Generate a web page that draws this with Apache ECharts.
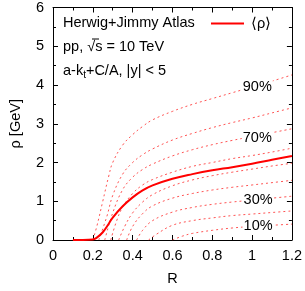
<!DOCTYPE html>
<html><head><meta charset="utf-8">
<script src="https://cdn.jsdelivr.net/npm/echarts@6/dist/echarts.min.js"></script>
<style>html,body{margin:0;padding:0;background:#fff}#c{width:305px;height:291px}</style>
</head><body><div id="c"></div>
<script>
// x ticks / y ticks
const xTicks = [0, 0.2, 0.4, 0.6, 0.8, 1, 1.2];
const yTicks = [0, 1, 2, 3, 4, 5, 6];

// mean <rho>
const R_mean   = [0.1, 0.15, 0.2, 0.22, 0.25, 0.28, 0.3, 0.35, 0.4, 0.45, 0.5, 0.6, 0.7, 0.8, 0.9, 1.0, 1.1, 1.2];
const rho_mean = [0, 0, 0.01, 0.06, 0.2, 0.42, 0.58, 0.87, 1.1, 1.28, 1.41, 1.58, 1.7, 1.8, 1.88, 1.97, 2.07, 2.17];

// percentile curves
const R_p90   = [0.2, 0.22, 0.25, 0.28, 0.3, 0.35, 0.4, 0.45, 0.5, 0.6, 0.7, 0.8, 0.9, 1.0, 1.1, 1.2];
const rho_p90 = [0, 0.35, 1.0, 1.65, 2.0, 2.45, 2.72, 2.93, 3.1, 3.32, 3.5, 3.65, 3.8, 3.95, 4.1, 4.26];
const R_p80   = [0.23, 0.27, 0.3, 0.35, 0.4, 0.45, 0.5, 0.6, 0.7, 0.8, 0.9, 1.0, 1.1, 1.2];
const rho_p80 = [0, 0.6, 1.15, 1.7, 2.0, 2.2, 2.35, 2.58, 2.75, 2.9, 3.03, 3.15, 3.28, 3.41];
const R_p70   = [0.26, 0.3, 0.35, 0.4, 0.45, 0.5, 0.6, 0.7, 0.8, 0.9, 1.0, 1.1, 1.2];
const rho_p70 = [0, 0.7, 1.3, 1.62, 1.82, 1.96, 2.17, 2.33, 2.46, 2.57, 2.67, 2.77, 2.87];
const R_p60   = [0.29, 0.32, 0.35, 0.4, 0.45, 0.5, 0.6, 0.7, 0.8, 0.9, 1.0, 1.1, 1.2];
const rho_p60 = [0, 0.5, 0.85, 1.2, 1.42, 1.56, 1.75, 1.9, 2.0, 2.1, 2.18, 2.27, 2.37];
const R_p50   = [0.33, 0.36, 0.4, 0.45, 0.5, 0.6, 0.7, 0.8, 0.9, 1.0, 1.1, 1.2];
const rho_p50 = [0, 0.35, 0.7, 0.98, 1.17, 1.4, 1.55, 1.66, 1.75, 1.83, 1.91, 1.98];
const R_p40   = [0.37, 0.4, 0.45, 0.5, 0.6, 0.7, 0.8, 0.9, 1.0, 1.1, 1.2];
const rho_p40 = [0, 0.35, 0.68, 0.88, 1.08, 1.2, 1.29, 1.36, 1.42, 1.48, 1.54];
const R_p30   = [0.42, 0.45, 0.5, 0.6, 0.7, 0.8, 0.9, 1.0, 1.1, 1.2];
const rho_p30 = [0, 0.25, 0.5, 0.72, 0.84, 0.92, 0.98, 1.03, 1.08, 1.13];
const R_p20   = [0.48, 0.52, 0.6, 0.7, 0.8, 0.9, 1.0, 1.1, 1.2];
const rho_p20 = [0, 0.15, 0.38, 0.5, 0.57, 0.63, 0.67, 0.71, 0.75];
const R_p10   = [0.6, 0.65, 0.7, 0.8, 0.9, 1.0, 1.1, 1.2];
const rho_p10 = [0, 0.1, 0.17, 0.25, 0.31, 0.35, 0.38, 0.41];

// curve labels
const labelText = ['90%', '70%', '30%', '10%'];
const labelR    = [1.026, 1.026, 1.03, 1.03];
const labelRho  = [3.96, 2.64, 1.02, 0.37];

const FONT = '"Liberation Sans", Arial, Helvetica, sans-serif';
const FS = 14.5;
const zip = (a, b) => a.map((v, i) => [v, b[i]]);

const pct = [
  ['90%', R_p90, rho_p90], ['80%', R_p80, rho_p80], ['70%', R_p70, rho_p70],
  ['60%', R_p60, rho_p60], ['50%', R_p50, rho_p50], ['40%', R_p40, rho_p40],
  ['30%', R_p30, rho_p30], ['20%', R_p20, rho_p20], ['10%', R_p10, rho_p10]
];

const axisCommon = {
  axisLine: {show: true, onZero: false, lineStyle: {color: '#000', width: 1}},
  axisTick: {show: true, inside: true, length: 5, lineStyle: {color: '#000'}},
  minorTick: {show: true, splitNumber: 2, length: 3, lineStyle: {color: '#000'}},
  splitLine: {show: false}
};

const chart = echarts.init(document.getElementById('c'), null, {renderer: 'canvas'});
const series = [];
pct.forEach(([n, r, v]) => {
  series.push({
    type: 'line', name: n, data: zip(r, v), showSymbol: false, symbol: 'none',
    smooth: 0.4, z: 2,
    lineStyle: {color: 'rgba(255,40,40,0.8)', width: 1, type: [2, 3]},
    itemStyle: {color: '#f00'}
  });
});
series.push({
  type: 'line', name: '⟨ρ⟩', data: zip(R_mean, rho_mean), showSymbol: false, symbol: 'none',
  smooth: 0.4, z: 3,
  lineStyle: {color: '#ff0000', width: 2}, itemStyle: {color: '#ff0000'}
});

const staticGraphic = [
  {type: 'text', x: 63, y: 23, z: 20, style: {text: 'Herwig+Jimmy Atlas', fontSize: FS, fontFamily: FONT, fill: '#000', verticalAlign: 'middle'}},
  {type: 'text', x: 63, y: 47, z: 20, style: {text: 'pp, √s = 10 TeV', fontSize: FS, fontFamily: FONT, fill: '#000', verticalAlign: 'middle'}},
  {type: 'line', z: 20, shape: {x1: 92, y1: 39, x2: 99, y2: 39}, style: {stroke: '#000', lineWidth: 1}},
  {type: 'text', x: 63, y: 71, z: 20, style: {
    text: '{a|a-k}{s|t}{a|+C/A, |y| < 5}', verticalAlign: 'middle', fill: '#000',
    rich: {
      a: {fontSize: FS, fontFamily: FONT, color: '#000', lineHeight: 18},
      s: {fontSize: 10, fontFamily: FONT, color: '#000', lineHeight: 10, verticalAlign: 'bottom'}
    }}}
];

chart.setOption({
  animation: false,
  backgroundColor: '#fff',
  grid: {left: 51, right: 13, top: 6, bottom: 44},
  legend: {
    data: ['⟨ρ⟩'], left: 211, top: 16, icon: 'rect', itemWidth: 33, itemHeight: 2,
    padding: 0, textStyle: {fontSize: FS, fontFamily: FONT, color: '#000', padding: [0, 0, 0, 2]}
  },
  xAxis: [
    Object.assign({type: 'value', min: 0, max: 1.2, interval: 0.2, name: 'R', nameLocation: 'middle', nameGap: 31,
      nameTextStyle: {fontSize: FS, fontFamily: FONT, color: '#000'},
      axisLabel: {fontSize: FS, fontFamily: FONT, color: '#000', margin: 8,
        formatter: v => { const t = xTicks.find(x => Math.abs(x - v) < 1e-6); return t === undefined ? '' : String(t); }}
    }, axisCommon),
    Object.assign({type: 'value', position: 'top', min: 0, max: 1.2, interval: 0.2, axisLabel: {show: false}}, axisCommon)
  ],
  yAxis: [
    Object.assign({type: 'value', min: 0, max: 6, interval: 1, name: 'ρ [GeV]', nameLocation: 'middle', nameGap: 30,
      nameTextStyle: {fontSize: FS, fontFamily: FONT, color: '#000'},
      axisLabel: {fontSize: FS, fontFamily: FONT, color: '#000', margin: 9,
        formatter: v => { const t = yTicks.find(x => Math.abs(x - v) < 1e-6); return t === undefined ? '' : String(t); }}
    }, axisCommon),
    Object.assign({type: 'value', position: 'right', min: 0, max: 6, interval: 1, axisLabel: {show: false}}, axisCommon)
  ],
  graphic: staticGraphic,
  series: series
});

// curve labels placed through the axis scales
const labelGraphic = labelText.map((t, i) => {
  const p = chart.convertToPixel({xAxisIndex: 0, yAxisIndex: 0}, [labelR[i], labelRho[i]]);
  return {type: 'text', x: p[0], y: p[1], z: 30, style: {
    text: t, fontSize: FS, fontFamily: FONT, fill: '#000', align: 'center', verticalAlign: 'middle',
    backgroundColor: '#fff', padding: [0, 1]}};
});
chart.setOption({graphic: staticGraphic.concat(labelGraphic)});
</script></body></html>
